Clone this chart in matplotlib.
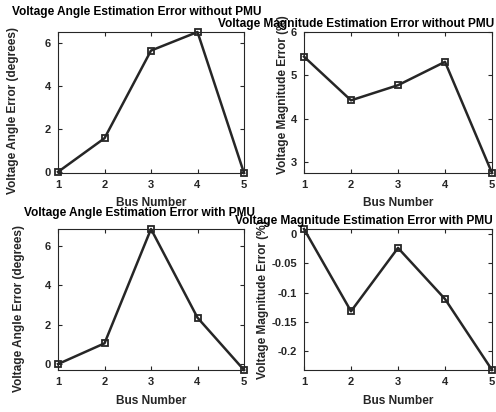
import numpy as np
import matplotlib
matplotlib.use('Agg')
import matplotlib.pyplot as plt

plt.rcParams['font.family'] = ['Liberation Sans', 'DejaVu Sans']
plt.rcParams['font.weight'] = 'bold'

bus = [1, 2, 3, 4, 5]
angle_no_pmu = [0.02, 1.58, 5.64, 6.50, -0.03]
mag_no_pmu = [5.43, 4.42, 4.77, 5.31, 2.74]
angle_pmu = [0.0, 1.05, 6.84, 2.35, -0.30]
mag_pmu = [0.0085, -0.1316, -0.0237, -0.1107, -0.2316]

ylabel_angle = 'Voltage Angle Error (degrees)'
ylabel_mag = 'Voltage Magnitude Error (%)'

W, H = 496, 412
fig = plt.figure(figsize=(W / 100, H / 100), dpi=100)

# axes box in pixels: left, top, right, bottom
# title: x, y, ha ; ylabel: x, y ; xlabel top y (pixels from top-left)
panels = [
    ((58, 32, 244, 173), angle_no_pmu, 'Voltage Angle Estimation Error without PMU',
     (137, 12, 'center'), ylabel_angle, (13, 111), 197, None, [0, 2, 4, 6]),
    ((304, 32, 492, 173), mag_no_pmu, 'Voltage Magnitude Estimation Error without PMU',
     (494, 24, 'right'), ylabel_mag, (283, 95), 197, (2.74, 6), [3, 4, 5, 6]),
    ((58, 229, 244, 370), angle_pmu, 'Voltage Angle Estimation Error with PMU',
     (139, 213, 'center'), ylabel_angle, (19, 308), 395, None, [0, 2, 4, 6]),
    ((304, 229, 492, 370), mag_pmu, 'Voltage Magnitude Estimation Error with PMU',
     (493, 221, 'right'), ylabel_mag, (263, 300), 395, None, [-0.2, -0.15, -0.1, -0.05, 0]),
]

dark = '#262626'
for box, vals, title, tpos, ylab, ypos, xlab_y, ylim, yticks in panels:
    l, t, r, b = box
    ax = fig.add_axes([l / W, 1 - b / H, (r - l) / W, (b - t) / H])
    ax.plot(bus, vals, color=dark, lw=1.8, marker='s', ms=5,
            mfc='none', mec=dark, mew=1.3, clip_on=False)
    ax.set_xlim(1, 5)
    if ylim is None:
        ylim = (min(vals), max(vals))
    ax.set_ylim(*ylim)
    ax.set_xticks(bus)
    ax.set_yticks(yticks)
    ax.set_yticklabels([f'{v:g}' for v in yticks])
    ax.tick_params(direction='in', top=True, right=True, length=3,
                   labelsize=8, pad=5, colors=dark, labelcolor=dark)
    for s in ax.spines.values():
        s.set_color(dark)
        s.set_linewidth(0.8)
    ax.set_xlabel('Bus Number', fontsize=8.6, fontweight='bold', color=dark)
    ax.xaxis.set_label_coords((l + r) / 2 / W, 1 - xlab_y / H, transform=fig.transFigure)
    ax.set_ylabel(ylab, fontsize=8.6, fontweight='bold', color=dark, va='center')
    ax.yaxis.set_label_coords(ypos[0] / W, 1 - ypos[1] / H, transform=fig.transFigure)
    fig.text(tpos[0] / W, 1 - tpos[1] / H, title, ha=tpos[2], va='center',
             fontsize=8.6, fontweight='bold', color='black')

fig.savefig('out.png', dpi=100)
